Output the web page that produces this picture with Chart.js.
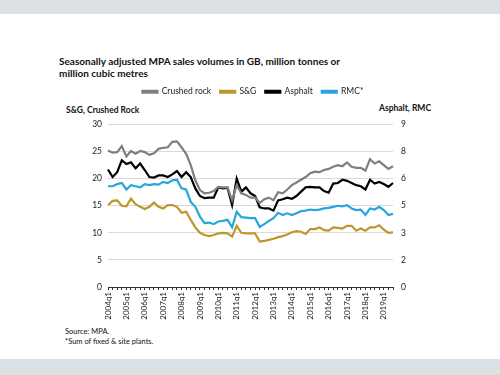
<!DOCTYPE html>
<html>
<head>
<meta charset="utf-8">
<script src="https://cdn.jsdelivr.net/npm/chart.js@4"></script>
<style>
  html, body { margin: 0; padding: 0; background: #fff; }
  #page { position: relative; width: 500px; height: 375px; overflow: hidden; font-family: Lato, "Open Sans", sans-serif; color: #111; }
  .band { position: absolute; left: 0; width: 500px; background: #dce1e5; }
  #title { position: absolute; left: 59px; top: 55px; font-size: 10px; line-height: 12px; font-weight: bold; }
  .axisTitle { position: absolute; font-size: 8.5px; font-weight: bold; line-height: 10px; }
  #notes { position: absolute; left: 65px; top: 327px; font-size: 7.5px; line-height: 9.5px; }
  canvas { position: absolute; left: 0; top: 0; }
</style>
</head>
<body>
<div id="page">
  <div class="band" style="top:0;height:14px"></div>
  <div class="band" style="top:359px;height:16px"></div>
  <div id="title">Seasonally adjusted MPA sales volumes in GB, million tonnes or<br>million cubic metres</div>
  <div class="axisTitle" style="left:66px;top:105px">S&amp;G, Crushed Rock</div>
  <div class="axisTitle" style="left:379px;top:103px">Asphalt, RMC</div>
  <div id="notes">Source: MPA.<br>*Sum of fixed &amp; site plants.</div>
  <canvas id="chart" width="500" height="375"></canvas>
</div>
<script>
// quarters 2004q1 .. 2019q3
var quarters = [];
for (var y = 2004; y <= 2019; y++) {
    for (var q = 1; q <= 4; q++) {
        if (y === 2019 && q > 3) break;
        quarters.push(y + 'q' + q);
    }
}

// left axis, million tonnes
var crushedRock = [25.2, 24.8, 24.9, 26.0, 24.1, 25.1, 24.6, 25.1, 24.9, 24.4, 24.7, 25.5, 25.7, 25.8, 26.8, 26.9,
    25.8, 24.6, 22.5, 19.7, 17.9, 17.3, 17.4, 17.7, 18.5, 18.4, 18.4, 16.0, 18.8, 17.3, 17.0, 16.5,
    16.5, 15.5, 16.2, 16.5, 16.0, 17.5, 17.3, 18.0, 18.8, 19.3, 19.8, 20.3, 21.0, 21.3, 21.2, 21.6,
    21.8, 22.2, 22.5, 22.3, 23.0, 22.2, 22.0, 22.0, 21.5, 23.6, 22.8, 23.2, 22.5, 21.8, 22.3];
var sandGravel = [15.1, 15.9, 16.0, 15.0, 14.9, 16.3, 15.3, 14.8, 14.4, 14.8, 15.6, 14.8, 14.5, 15.1, 15.1, 14.8,
    13.7, 13.9, 12.4, 11.0, 10.0, 9.6, 9.4, 9.6, 9.9, 10.0, 9.9, 9.3, 11.3, 10.0, 9.9, 9.9,
    9.9, 8.4, 8.5, 8.7, 8.9, 9.2, 9.4, 9.7, 10.1, 10.3, 10.2, 9.8, 10.7, 10.7, 11.0, 10.5,
    10.4, 11.0, 10.9, 10.8, 11.3, 11.3, 10.4, 10.8, 10.4, 11.0, 11.0, 11.4, 10.6, 10.0, 10.1];
// right axis
var asphalt = [6.51, 6.09, 6.36, 7.02, 6.81, 6.90, 6.57, 6.84, 6.48, 6.09, 6.06, 6.18, 6.18, 6.09, 6.24, 6.42,
    6.09, 6.36, 6.09, 5.46, 5.04, 4.92, 4.95, 4.95, 5.52, 5.46, 5.49, 4.53, 6.00, 5.28, 5.52, 5.19,
    5.04, 4.41, 4.35, 4.35, 4.23, 4.80, 4.86, 4.95, 4.89, 5.04, 5.28, 5.52, 5.55, 5.52, 5.52, 5.31,
    5.22, 5.73, 5.76, 5.94, 5.88, 5.76, 5.64, 5.58, 5.40, 5.94, 5.73, 5.82, 5.70, 5.55, 5.76];
var rmc = [5.58, 5.58, 5.70, 5.76, 5.40, 5.64, 5.58, 5.52, 5.70, 5.64, 5.70, 5.67, 5.82, 5.76, 5.91, 5.94,
    5.46, 5.40, 4.71, 4.44, 3.90, 3.54, 3.57, 3.48, 3.63, 3.66, 3.72, 3.30, 4.17, 3.87, 3.84, 3.81,
    3.81, 3.33, 3.48, 3.66, 3.81, 4.11, 3.99, 4.08, 3.99, 4.08, 4.20, 4.23, 4.29, 4.26, 4.29, 4.35,
    4.38, 4.44, 4.50, 4.47, 4.53, 4.35, 4.26, 4.29, 3.99, 4.35, 4.29, 4.44, 4.26, 3.99, 4.05];

var ctx = document.getElementById('chart');

// push the plot down below the legend
var legendGap = {
    id: 'legendGap',
    beforeInit: function(chart) {
        var fit = chart.legend.fit;
        chart.legend.fit = function() {
            fit.bind(chart.legend)();
            this.height += 18.5;
        };
    }
};

function series(label, data, color, axis) {
    return {
        label: label, data: data, yAxisID: axis,
        borderColor: color, backgroundColor: color,
        borderWidth: 2.2, pointRadius: 0, tension: 0, fill: false
    };
}

var chart = new Chart(ctx, {
    type: 'line',
    data: {
        labels: quarters,
        datasets: [
            series('Crushed rock', crushedRock, '#7f7f7f', 'y'),
            series('S&G', sandGravel, '#bf962b', 'y'),
            series('Asphalt', asphalt, '#000000', 'y1'),
            series('RMC*', rmc, '#27a6dd', 'y1')
        ]
    },
    options: {
        responsive: false,
        animation: false,
        layout: { padding: { top: 78.5, left: 6, right: 0, bottom: 0 } },
        plugins: {
            tooltip: { enabled: false },
            legend: {
                position: 'top',
                labels: {
                    boxWidth: 15, boxHeight: 2, padding: 9,
                    color: '#222',
                    font: { family: 'Lato', size: 8.5 }
                }
            }
        },
        scales: {
            x: {
                afterFit: function(s) { s.height = 88; },
                border: { display: true, color: '#333', width: 1 },
                grid: { drawOnChartArea: false, tickLength: 3, color: '#333' },
                ticks: {
                    autoSkip: false, maxRotation: 90, minRotation: 90, padding: 2,
                    color: '#222', font: { family: 'Lato', size: 8 },
                    callback: function(v, i) { return i % 4 === 0 ? quarters[i] : ''; }
                }
            },
            y: {
                position: 'left', min: 0, max: 30,
                afterFit: function(s) { s.width = 102; },
                border: { display: false },
                grid: {
                    drawTicks: false,
                    color: function(c) { return c.tick.value === 0 ? 'rgba(0,0,0,0)' : '#d9d9d9'; }
                },
                ticks: { stepSize: 5, padding: 6, color: '#222', font: { family: 'Lato', size: 8.5 } }
            },
            y1: {
                position: 'right', min: 0, max: 9,
                afterFit: function(s) { s.width = 107; },
                border: { display: false },
                grid: { display: false, drawTicks: false },
                ticks: {
                    stepSize: 1.5, padding: 8, color: '#222', font: { family: 'Lato', size: 8.5 },
                    callback: function(v) { return Math.round(v); }
                }
            }
        }
    },
    plugins: [legendGap]
});
</script>
</body>
</html>
